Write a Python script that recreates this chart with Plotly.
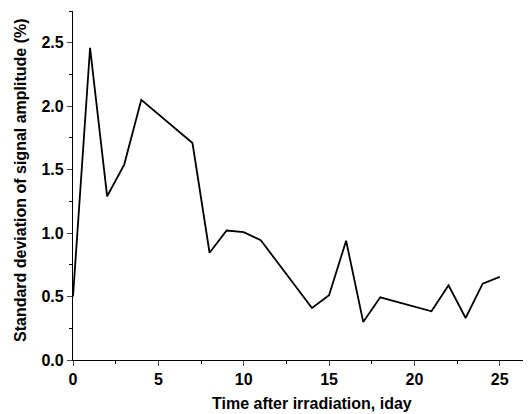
import plotly.graph_objects as go

days = [0, 1, 2, 3, 4, 7, 8, 9, 10, 11, 14, 15, 16, 17, 18, 21, 22, 23, 24, 25]
std_dev = [0.50, 2.46, 1.29, 1.54, 2.05, 1.71, 0.845, 1.02, 1.007, 0.944, 0.41, 0.51,
           0.94, 0.30, 0.494, 0.384, 0.589, 0.331, 0.602, 0.655]

x_title = "Time after irradiation, iday"
y_title = "Standard deviation of signal amplitude (%)"

font_family = "Liberation Sans, Arial, sans-serif"

fig = go.Figure()
fig.add_trace(go.Scatter(x=days, y=std_dev, mode="lines",
                         line=dict(color="black", width=1.8), showlegend=False))

# page body has an 8px default margin, so the figure is sized 8px smaller
fig.update_layout(
    width=523, height=406,
    margin=dict(l=65, r=0, t=3, b=54),
    paper_bgcolor="white", plot_bgcolor="white",
    font=dict(family=font_family, color="black"),
    xaxis=dict(range=[0, 26.83], dtick=5, tick0=0, ticks="outside", ticklen=5, tickwidth=1.2,
               showline=True, linecolor="black", linewidth=1.2, showgrid=False, zeroline=False,
               tickfont=dict(size=16, weight="bold", family=font_family),
               minor=dict(ticks="outside", ticklen=3, dtick=2.5, tick0=0, tickcolor="black", tickwidth=1.2)),
    yaxis=dict(range=[0, 2.75], dtick=0.5, tick0=0, ticks="outside", ticklen=5, tickwidth=1.2,
               tickformat=".1f",
               showline=True, linecolor="black", linewidth=1.2, showgrid=False, zeroline=False,
               tickfont=dict(size=16, weight="bold", family=font_family),
               minor=dict(ticks="outside", ticklen=3, dtick=0.25, tick0=0, tickcolor="black", tickwidth=1.2)),
)

fig.add_annotation(text=x_title, xref="paper", yref="paper",
                   x=(312 - 73) / 458, y=-(414 - 360) / 349, xanchor="center", yanchor="bottom",
                   showarrow=False, font=dict(size=16, weight="bold", family=font_family))
fig.add_annotation(text=y_title, xref="paper", yref="paper",
                   x=-(73 - 20) / 458, y=(360 - 180) / 349, xanchor="center", yanchor="middle",
                   textangle=-90, showarrow=False, font=dict(size=16, weight="bold", family=font_family))

fig.write_html("out.html")
